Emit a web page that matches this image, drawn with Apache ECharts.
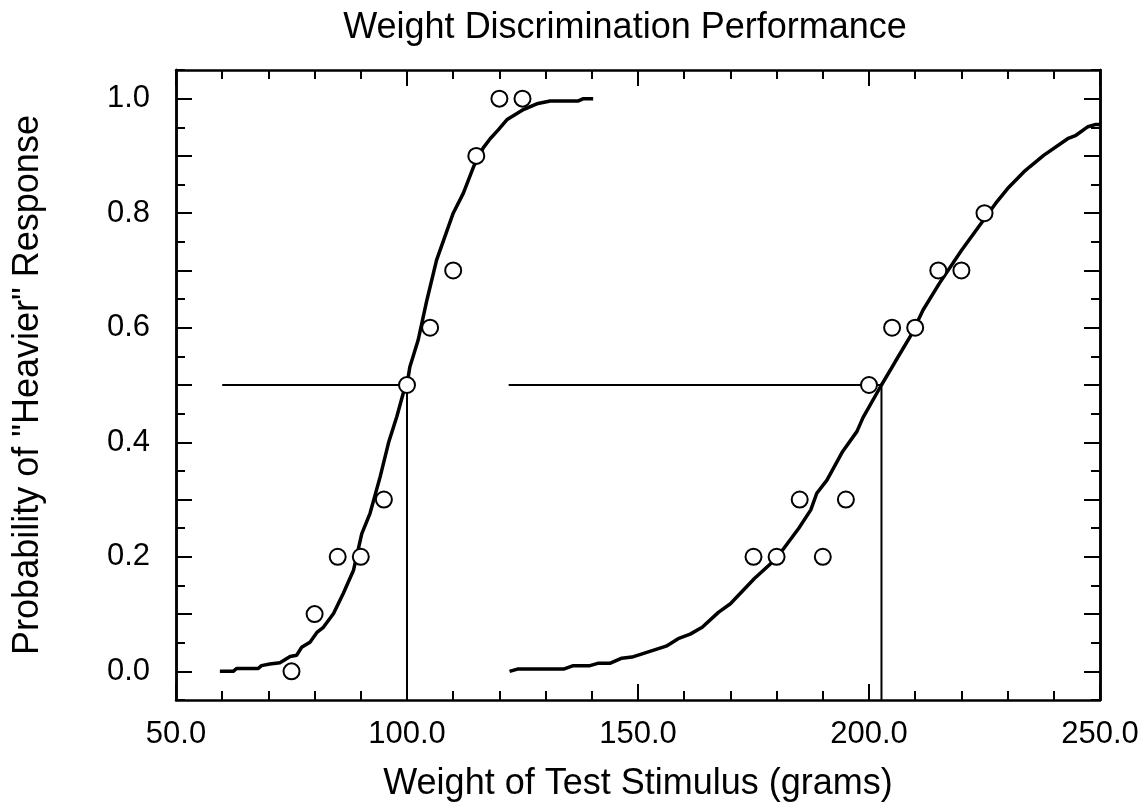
<!DOCTYPE html>
<html>
<head>
<meta charset="utf-8">
<script src="https://cdn.jsdelivr.net/npm/echarts@6/dist/echarts.min.js"></script>
<style>
html,body{margin:0;padding:0;background:#fff;}
#chart{width:1146px;height:810px;}
</style>
</head>
<body>
<div id="chart"></div>
<script>
// ---- data ----
const titleText = 'Weight Discrimination Performance';
const xName = 'Weight of Test Stimulus (grams)';
const yName = 'Probability of "Heavier" Response';

// observed proportions, light-standard condition
const obsLeft = [[75,0.0],[80,0.1],[85,0.2],[90,0.2],[95,0.3],[100,0.5],[105,0.6],[110,0.7],[115,0.9],[120,1.0],[125,1.0]];
// observed proportions, heavy-standard condition
const obsRight = [[175,0.2],[180,0.2],[185,0.3],[190,0.2],[195,0.3],[200,0.5],[205,0.6],[210,0.6],[215,0.7],[220,0.7],[225,0.8]];

// fitted psychometric curves
const fitLeft = [[59.5,0],[62.4,0],[63.1,0.005],[67.8,0.005],[68.5,0.01],[70.3,0.013],[72.5,0.015],[74.7,0.026],[76.1,0.028],[77.2,0.042],[79.0,0.051],[80.5,0.068],[81.9,0.077],[84.1,0.101],[86.2,0.136],[88.4,0.176],[90.2,0.24],[92.0,0.276],[94.2,0.34],[96.0,0.399],[97.8,0.445],[99.2,0.486],[100,0.5],[100.6,0.531],[102.4,0.578],[104.3,0.648],[106.4,0.718],[108.2,0.759],[110,0.8],[112.2,0.835],[114.4,0.881],[116.5,0.914],[118,0.93],[119.8,0.946],[121.6,0.963],[125.2,0.981],[128.1,0.991],[131,0.996],[137.1,0.996],[138.2,1.0],[140.3,1.0]];
const fitRight = [[122.2,0],[123.9,0.004],[133.9,0.004],[136,0.01],[139.6,0.01],[141.3,0.014],[143.9,0.014],[146.5,0.023],[148.7,0.025],[156.1,0.044],[158.7,0.057],[161.3,0.065],[163.9,0.077],[167.4,0.103],[170,0.118],[175.2,0.162],[178.7,0.188],[181.3,0.212],[184.8,0.25],[187.4,0.282],[188.7,0.311],[190.9,0.334],[194.3,0.384],[197.4,0.419],[198.7,0.443],[202.7,0.5],[205.7,0.541],[209.1,0.587],[211.7,0.631],[215.2,0.677],[220,0.735],[224.8,0.788],[227.4,0.817],[230,0.843],[233.5,0.872],[234.8,0.881],[237.8,0.901],[243,0.93],[244.8,0.936],[247.4,0.951],[249.1,0.955],[250,0.955]];

// 50% threshold guide lines
const pse = 0.5;
const guideLeftStart = 60, guideLeftPSE = 100;
const guideRightStart = 122, guideRightPSE = 202.7;

// axis ranges / ticks
const xMin = 50, xMax = 250, xStep = 50;
const yMin = -0.05, yMax = 1.05, yStep = 0.05;
const yMajorTicks = [0,0.1,0.2,0.3,0.4,0.5,0.6,0.7,0.8,0.9,1.0];
const yLabelTicks = [0,0.2,0.4,0.6,0.8,1.0];

// ---- chart ----
const FONT = '"Liberation Sans", Arial, Helvetica, sans-serif';
const chart = echarts.init(document.getElementById('chart'), null, {renderer:'canvas'});

function xAxisDef(pos, labels){
  return {
    type:'value', position:pos, min:xMin, max:xMax, interval:xStep,
    axisLine:{show:true, onZero:false, lineStyle:{color:'#000', width:2.5}},
    axisTick:{show:true, inside:true, length:16, lineStyle:{color:'#000', width:2}},
    minorTick:{show:true, splitNumber:5, length:9, lineStyle:{color:'#000', width:2}},
    splitLine:{show:false}, minorSplitLine:{show:false},
    axisLabel:{show:labels, margin:19, color:'#000', fontSize:31, fontFamily:FONT,
      formatter:v=>v.toFixed(1)},
    name: labels ? xName : '', nameLocation:'middle', nameGap:66,
    nameTextStyle:{color:'#000', fontSize:36, fontFamily:FONT}
  };
}
function yAxisDef(pos, labels, major){
  const d = {
    type:'value', position:pos, min:yMin, max:yMax, interval:yStep,
    axisLine:{show:true, onZero:false, lineStyle:{color:'#000', width:2.5}},
    axisTick:{show:true, inside:true, length: major?16:9, lineStyle:{color:'#000', width:2}},
    splitLine:{show:false},
    axisLabel:{show:labels, margin:26, color:'#000', fontSize:31, fontFamily:FONT,
      customValues: yLabelTicks, formatter:v=>v.toFixed(1)},
    name: labels ? yName : '', nameLocation:'middle', nameGap:130, nameRotate:90,
    nameTextStyle:{color:'#000', fontSize:36, fontFamily:FONT}
  };
  if (major) d.axisTick.customValues = yMajorTicks;
  return d;
}

const lineBase = {type:'line', symbol:'none', silent:true, animation:false, xAxisIndex:0, yAxisIndex:0};

chart.setOption({
  backgroundColor:'#fff',
  animation:false,
  title:{text:titleText, left:620, top:5, textAlign:'center',
    textStyle:{color:'#000', fontSize:36, fontWeight:'normal', fontFamily:FONT}},
  grid:{left:176, right:46, top:70, bottom:110, containLabel:false},
  xAxis:[xAxisDef('bottom', true), xAxisDef('top', false)],
  yAxis:[yAxisDef('left', true, true), yAxisDef('left', false, false),
         yAxisDef('right', false, true), yAxisDef('right', false, false)],
  series:[
    Object.assign({}, lineBase, {data:[[guideLeftStart,pse],[guideLeftPSE,pse],[guideLeftPSE,yMin]], lineStyle:{color:'#000', width:2}}),
    Object.assign({}, lineBase, {data:[[guideRightStart,pse],[guideRightPSE,pse],[guideRightPSE,yMin]], lineStyle:{color:'#000', width:2}}),
    Object.assign({}, lineBase, {data:fitLeft, lineStyle:{color:'#000', width:3.5}}),
    Object.assign({}, lineBase, {data:fitRight, lineStyle:{color:'#000', width:3.5}}),
    {type:'scatter', data:obsLeft.concat(obsRight), symbol:'circle', symbolSize:16, z:5,
      itemStyle:{color:'#fff', borderColor:'#000', borderWidth:2, opacity:1}, silent:true}
  ]
});
</script>
</body>
</html>
